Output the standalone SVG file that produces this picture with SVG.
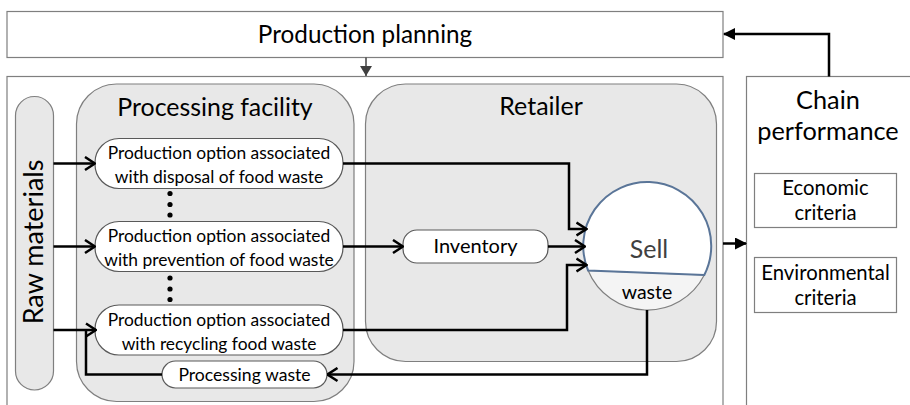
<svg xmlns="http://www.w3.org/2000/svg" width="910" height="405" viewBox="0 0 910 405">
<style>
text{font-family:Lato,"Liberation Sans",sans-serif;fill:#000;text-anchor:middle}
.t25{font-size:25px}
.opt-t{font-size:17.4px}
.t20{font-size:20.3px}
.box{fill:#fff;stroke:#7f7f7f;stroke-width:1.2}
.grp{fill:#e8e8e8;stroke:#7f7f7f;stroke-width:1.2}
.opt{fill:#fff;stroke:#595959;stroke-width:1.2}
.con{fill:none;stroke:#000;stroke-width:2.5}
</style>
<defs>
<marker id="open" viewBox="0 0 12 16" refX="11" refY="8" markerWidth="12" markerHeight="16" markerUnits="userSpaceOnUse" orient="auto">
<path d="M1,1.5 L11,8 L1,14.5" fill="none" stroke="#000" stroke-width="2.5"/>
</marker>
<marker id="fill" viewBox="0 0 12 12" refX="11" refY="6" markerWidth="12" markerHeight="12" markerUnits="userSpaceOnUse" orient="auto">
<path d="M0,0 L12,6 L0,12 Z" fill="#000"/>
</marker>
<marker id="grey" viewBox="0 0 10 12" refX="10" refY="6" markerWidth="10" markerHeight="12" markerUnits="userSpaceOnUse" orient="auto">
<path d="M0,0 L10,6 L0,12 Z" fill="#404040"/>
</marker>
</defs>

<g id="production-planning">
<rect class="box" x="7" y="11.5" width="716" height="46"/>
<text style="font-size:24.3px" x="365" y="43">Production planning</text>
</g>

<g id="main-frame">
<rect class="box" x="7" y="76.5" width="716" height="340"/>
</g>

<g id="chain-performance">
<rect class="box" x="746.5" y="76.5" width="200" height="340"/>
<text style="font-size:25.3px" x="828" y="109">Chain</text>
<text style="font-size:25.3px" x="828" y="140">performance</text>
</g>

<g id="economic-criteria">
<rect class="box" x="754.5" y="173.5" width="142" height="54"/>
<text class="t20" x="825.5" y="195">Economic</text>
<text class="t20" x="825.5" y="220">criteria</text>
</g>

<g id="environmental-criteria">
<rect class="box" x="754.5" y="257.5" width="142" height="55"/>
<text class="t20" x="825.5" y="280">Environmental</text>
<text class="t20" x="825.5" y="305">criteria</text>
</g>

<g id="raw-materials">
<rect class="grp" x="15.5" y="96.5" width="38" height="293.5" rx="19"/>
<text style="font-size:27px" transform="translate(43,242) rotate(-90)" x="0" y="0">Raw materials</text>
</g>

<g id="processing-facility">
<rect class="grp" x="76.5" y="84" width="277.5" height="317.5" rx="40"/>
<text style="font-size:24.9px" x="215" y="116">Processing facility</text>
</g>

<g id="retailer">
<rect class="grp" x="365.5" y="84" width="351" height="277.5" rx="40"/>
<text class="t25" x="541" y="115">Retailer</text>
</g>

<g id="option-disposal">
<rect class="opt" x="95" y="138.5" width="248" height="50" rx="24"/>
<text class="opt-t" x="219" y="158.5">Production option associated</text>
<text class="opt-t" x="219" y="182.5">with disposal of food waste</text>
</g>

<g id="dots-1">
<circle cx="170" cy="193.5" r="2.6"/>
<circle cx="170" cy="204.5" r="2.6"/>
<circle cx="170" cy="215" r="2.6"/>
</g>

<g id="option-prevention">
<rect class="opt" x="95" y="221.5" width="248" height="50" rx="24"/>
<text class="opt-t" x="219" y="241.5">Production option associated</text>
<text class="opt-t" x="219" y="265.5">with prevention of food waste</text>
</g>

<g id="dots-2">
<circle cx="170" cy="278" r="2.6"/>
<circle cx="170" cy="289" r="2.6"/>
<circle cx="170" cy="299.5" r="2.6"/>
</g>

<g id="option-recycling">
<rect class="opt" x="95" y="305" width="248" height="50" rx="24"/>
<text class="opt-t" x="219" y="325.5">Production option associated</text>
<text class="opt-t" x="219" y="349.5">with recycling food waste</text>
</g>

<g id="processing-waste">
<rect class="opt" x="162" y="361" width="165" height="27" rx="13.5"/>
<text style="font-size:17.6px" x="244.5" y="380.5">Processing waste</text>
</g>

<g id="inventory">
<rect class="opt" x="403" y="230" width="145" height="33" rx="14"/>
<text style="font-size:20px" x="475.5" y="253">Inventory</text>
</g>

<g id="sell">
<path d="M588.1,270.5 A64,64 0 0 0 704.3,275 Z" fill="#f4f4f4" stroke="#7f7f7f" stroke-width="1.2"/>
<path d="M588.1,270.5 A64,64 0 1 1 704.3,275 Z" fill="#fff" stroke="#5a7598" stroke-width="2"/>
<text x="649" y="258" style="font-size:25px;fill:#404040">Sell</text>
<text style="font-size:19.5px" x="647" y="298.5">waste</text>
</g>

<g id="connectors">
<line x1="366" y1="57.5" x2="366" y2="76" stroke="#404040" stroke-width="1.5" marker-end="url(#grey)"/>
<polyline class="con" points="829,76.5 829,34 724,34" marker-end="url(#fill)"/>
<line class="con" x1="723" y1="243.5" x2="746" y2="243.5" marker-end="url(#fill)"/>
<line class="con" x1="53.5" y1="163.5" x2="95" y2="163.5" marker-end="url(#open)"/>
<line class="con" x1="53.5" y1="246.5" x2="95" y2="246.5" marker-end="url(#open)"/>
<line class="con" x1="53.5" y1="330" x2="96" y2="330" marker-end="url(#open)"/>
<line class="con" x1="343" y1="246.5" x2="403" y2="246.5" marker-end="url(#open)"/>
<line class="con" x1="548" y1="246.5" x2="585" y2="246.5" marker-end="url(#open)"/>
<polyline class="con" points="343,163.5 569,163.5 569,229 586.5,229" marker-end="url(#open)"/>
<polyline class="con" points="343,330 567,330 567,265 586.5,265" marker-end="url(#open)"/>
<polyline class="con" points="647,310 647,374.5 327.5,374.5" marker-end="url(#open)"/>
<polyline class="con" points="162,374.5 86,374.5 86,330"/>
</g>
</svg>
